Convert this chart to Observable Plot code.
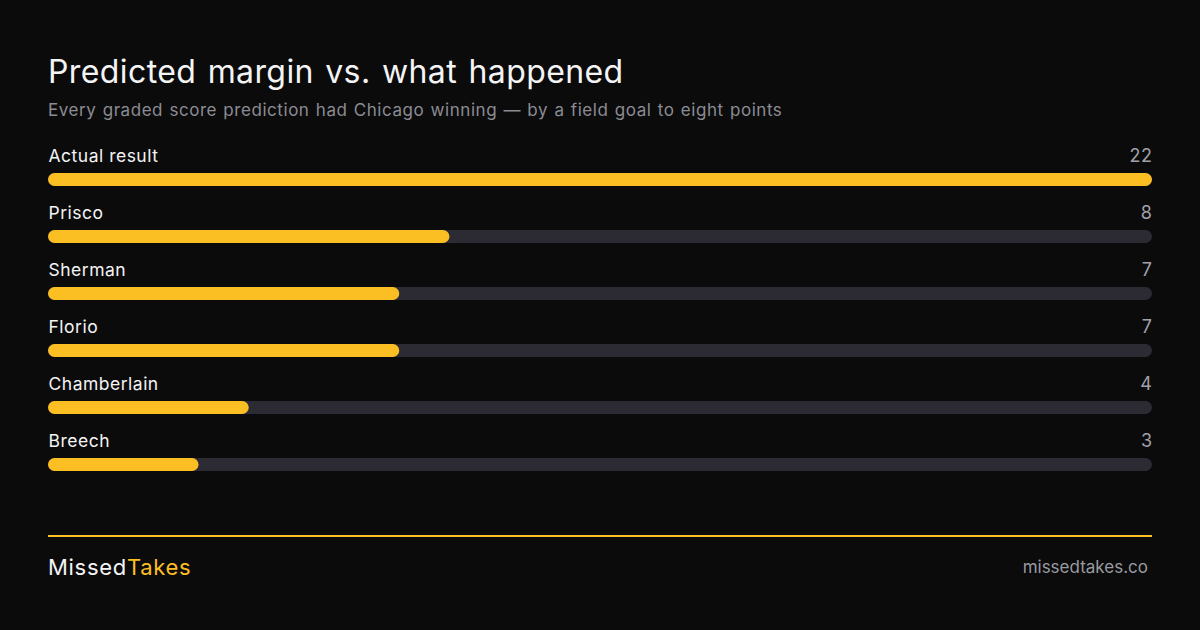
<!DOCTYPE html>
<html><head><meta charset="utf-8">
<script src="https://cdn.jsdelivr.net/npm/d3@7"></script>
<script src="https://cdn.jsdelivr.net/npm/@observablehq/plot@0.6"></script>
<style>
html,body{margin:0;padding:0;background:#0b0b0b;}
body{width:1200px;height:630px;position:relative;overflow:hidden;font-family:Inter,"Noto Sans",sans-serif;}
#title{position:absolute;left:48px;top:52px;font-size:32px;color:#f4f4f5;letter-spacing:0.4px;word-spacing:2px;white-space:nowrap;}
#sub{position:absolute;left:48px;top:100px;font-size:17px;color:#8c8c94;letter-spacing:0.55px;word-spacing:1px;white-space:nowrap;}
#chart{position:absolute;left:0;top:140px;}
#rule{position:absolute;left:48px;top:535px;width:1104px;height:2px;background:#fbbf24;}
#brand{position:absolute;left:48px;top:554px;font-size:22px;color:#f4f4f5;letter-spacing:0.7px;}
#brand span{color:#fbbf24;}
#site{position:absolute;right:52px;top:557px;font-size:17px;color:#9a9aa2;}
</style></head>
<body>
<div id="title">Predicted margin vs. what happened</div>
<div id="sub">Every graded score prediction had Chicago winning — by a field goal to eight points</div>
<div id="chart"></div>
<div id="rule"></div>
<div id="brand">Missed<span>Takes</span></div>
<div id="site">missedtakes.co</div>
<script>
const names = ["Actual result","Prisco","Sherman","Florio","Chamberlain","Breech"];
const margins = [22,8,7,7,4,3];
const maxMargin = 22;
const rows = names.map((n,i)=>({name:n, value:margins[i]}));
const chart = Plot.plot({
  width:1200, height:342,
  marginLeft:48, marginRight:48, marginTop:0, marginBottom:0,
  style:{background:"transparent", fontFamily:"Inter, 'Noto Sans', sans-serif", letterSpacing:"0.5px"},
  x:{domain:[0,maxMargin], axis:null},
  y:{domain:names, axis:null, padding:0},
  marks:[
    Plot.barX(rows,{x1:0, x2:maxMargin, y:"name", fill:"#2c2a33", rx:6.5, insetTop:33, insetBottom:11}),
    Plot.barX(rows,{x1:0, x2:"value", y:"name", fill:"#fbbf24", rx:6.5, insetTop:33, insetBottom:11}),
    Plot.text(rows,{x:0, y:"name", text:"name", textAnchor:"start", dy:-12.5, fill:"#f4f4f5", fontSize:17.5}),
    Plot.text(rows,{x:maxMargin, y:"name", text:d=>String(d.value), textAnchor:"end", dy:-12.5, fill:"#a1a1aa", fontSize:18})
  ]
});
document.getElementById("chart").appendChild(chart);
</script>
</body></html>
